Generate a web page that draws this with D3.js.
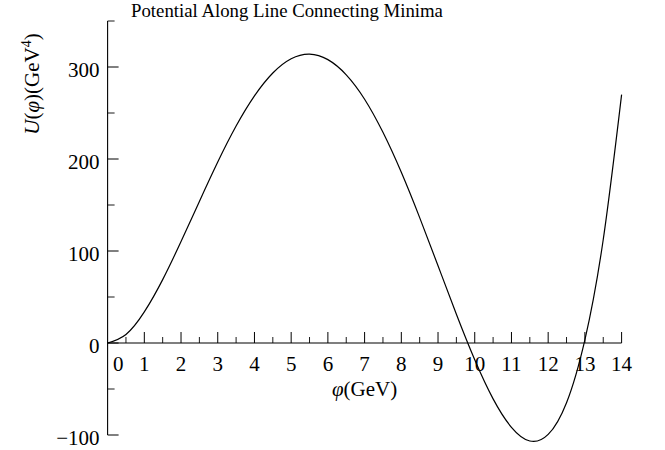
<!DOCTYPE html>
<html><head><meta charset="utf-8">
<script src="https://cdn.jsdelivr.net/npm/d3@7"></script>
<style>
html,body{margin:0;padding:0;background:#fff;}
text{font-family:"Liberation Serif","Times New Roman",serif;fill:#000;}
</style></head>
<body><svg id="chart" width="665" height="450"></svg>
<script>
// data
const phi = [0,0.5,1,1.5,2,2.5,3,3.5,4,4.5,5,5.5,6,6.5,7,7.5,8,8.5,9,9.5,10,10.5,11,11.5,12,12.5,13,13.5,14];
const U   = [0,9.3,33.8,68.9,110.3,153.9,196.7,235.8,268.6,293.5,309,314,308,291.5,265,229,185.5,136.3,84,31.3,-18.2,-60.7,-91.6,-106.5,-99.4,-64.9,3.5,112.5,270];
const xMajor = [1,2,3,4,5,6,7,8,9,10,11,12,13,14];
const xMinor = [0.5,1.5,2.5,3.5,4.5,5.5,6.5,7.5,8.5,9.5,10.5,11.5,12.5,13.5];
const yMajor = [-100,0,100,200,300];
const yMinor = [-50,50,150,250,350];
const title = "Potential Along Line Connecting Minima";

const svg = d3.select("#chart");
const x = d3.scaleLinear().domain([0,14]).range([107.6,621.6]);
const y = d3.scaleLinear().domain([-100,350]).range([435,21]);
const FS = 21;

// y axis
svg.append("line").attr("x1",x(0)).attr("x2",x(0)).attr("y1",y(350)).attr("y2",y(-100))
  .attr("stroke","#000").attr("stroke-width",1.1);
yMajor.forEach(v=>{
  svg.append("line").attr("x1",x(0)).attr("x2",x(0)+11).attr("y1",y(v)).attr("y2",y(v)).attr("stroke","#000").attr("stroke-width",1);
  svg.append("text").attr("x",x(0)-8).attr("y",y(v)).attr("dy","0.48em").attr("text-anchor","end")
    .attr("font-size",FS).text(v<0?"\u2212"+Math.abs(v):v);
});
yMinor.forEach(v=>{
  svg.append("line").attr("x1",x(0)).attr("x2",x(0)+7).attr("y1",y(v)).attr("y2",y(v)).attr("stroke","#000").attr("stroke-width",0.9);
});

// x axis
svg.append("line").attr("x1",x(0)).attr("x2",x(14)).attr("y1",y(0)).attr("y2",y(0))
  .attr("stroke","#000").attr("stroke-width",1.1);
xMajor.forEach(v=>{
  svg.append("line").attr("x1",x(v)).attr("x2",x(v)).attr("y1",y(0)).attr("y2",y(0)-11).attr("stroke","#000").attr("stroke-width",1);
});
xMinor.forEach(v=>{
  svg.append("line").attr("x1",x(v)).attr("x2",x(v)).attr("y1",y(0)).attr("y2",y(0)-6).attr("stroke","#000").attr("stroke-width",0.9);
});
[0].concat(xMajor).forEach(v=>{
  svg.append("text").attr("x",v===0?x(0.29):x(v)).attr("y",y(0)+27.5).attr("text-anchor","middle")
    .attr("font-size",FS).text(v);
});

// curve
const pts = phi.map((p,i)=>[p,U[i]]);
svg.append("path").datum(pts)
  .attr("d",d3.line().x(d=>x(d[0])).y(d=>y(d[1])).curve(d3.curveNatural))
  .attr("fill","none").attr("stroke","#000").attr("stroke-width",1.2);

// title
svg.append("text").attr("x",287).attr("y",17).attr("text-anchor","middle").attr("font-size",18.8).text(title);

// x label
const xl = svg.append("text").attr("x",x(7)).attr("y",396).attr("text-anchor","middle").attr("font-size",FS);
xl.append("tspan").attr("font-style","italic").text("φ");
xl.append("tspan").text("(GeV)");

// y label
const yl = svg.append("text").attr("transform","translate(39,84) rotate(-90)").attr("text-anchor","middle").attr("font-size",FS);
yl.append("tspan").attr("font-style","italic").text("U");
yl.append("tspan").text("(");
yl.append("tspan").attr("font-style","italic").text("φ");
yl.append("tspan").text(")(GeV");
yl.append("tspan").attr("font-size",14).attr("dy",-8).text("4");
yl.append("tspan").attr("dy",8).text(")");
</script></body></html>
